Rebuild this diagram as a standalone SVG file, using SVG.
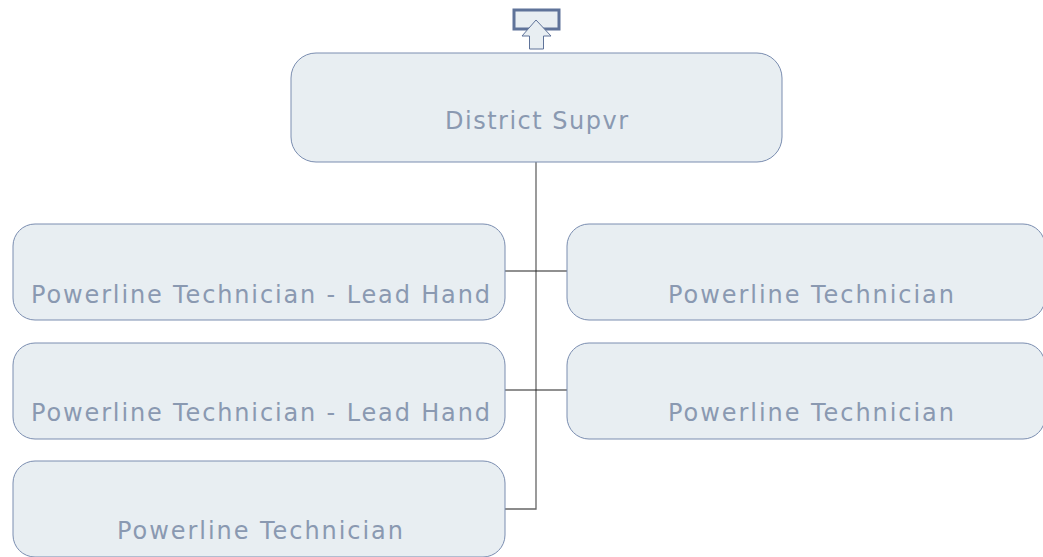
<svg xmlns="http://www.w3.org/2000/svg" width="1043" height="557" viewBox="0 0 1043 557">
<style>
.box{fill:#e8eef2;stroke:#7a8db0;stroke-width:1}
.lbl{font-family:"DejaVu Sans",sans-serif;font-size:24px;fill:#8a99b1}
.con{stroke:#666;stroke-width:1.3;fill:none}
.hcon{stroke:#222;stroke-width:1.2;fill:none}
</style>
<rect width="1043" height="557" fill="#fff"/>
<g id="icon">
<rect x="514" y="10" width="45" height="19" fill="#e8eef2" stroke="#5f7399" stroke-width="3"/>
<path d="M536,20 L551,36 L543.5,36 L543.5,49 L529.5,49 L529.5,36 L522,36 Z" fill="#e8eef2" stroke="#5f7399" stroke-width="1"/>
</g>
<g id="connectors">
<path class="con" d="M536,162 V509 H505"/>
<path class="hcon" d="M505,271 H567"/>
<path class="hcon" d="M505,390 H567"/>
</g>
<g id="n0"><rect class="box" x="291" y="53" width="491" height="109" rx="25"/><text class="lbl" x="445" y="129" textLength="183" lengthAdjust="spacing">District Supvr</text></g>
<g id="n1"><rect class="box" x="13" y="224" width="492" height="96" rx="22"/><text class="lbl" x="31" y="303" textLength="459" lengthAdjust="spacing">Powerline Technician - Lead Hand</text></g>
<g id="n2"><rect class="box" x="567" y="224" width="478" height="96" rx="22"/><text class="lbl" x="668" y="303" textLength="286" lengthAdjust="spacing">Powerline Technician</text></g>
<g id="n3"><rect class="box" x="13" y="343" width="492" height="96" rx="22"/><text class="lbl" x="31" y="421" textLength="459" lengthAdjust="spacing">Powerline Technician - Lead Hand</text></g>
<g id="n4"><rect class="box" x="567" y="343" width="478" height="96" rx="22"/><text class="lbl" x="668" y="421" textLength="286" lengthAdjust="spacing">Powerline Technician</text></g>
<g id="n5"><rect class="box" x="13" y="461" width="492" height="96" rx="22"/><text class="lbl" x="117" y="539" textLength="286" lengthAdjust="spacing">Powerline Technician</text></g>
</svg>
